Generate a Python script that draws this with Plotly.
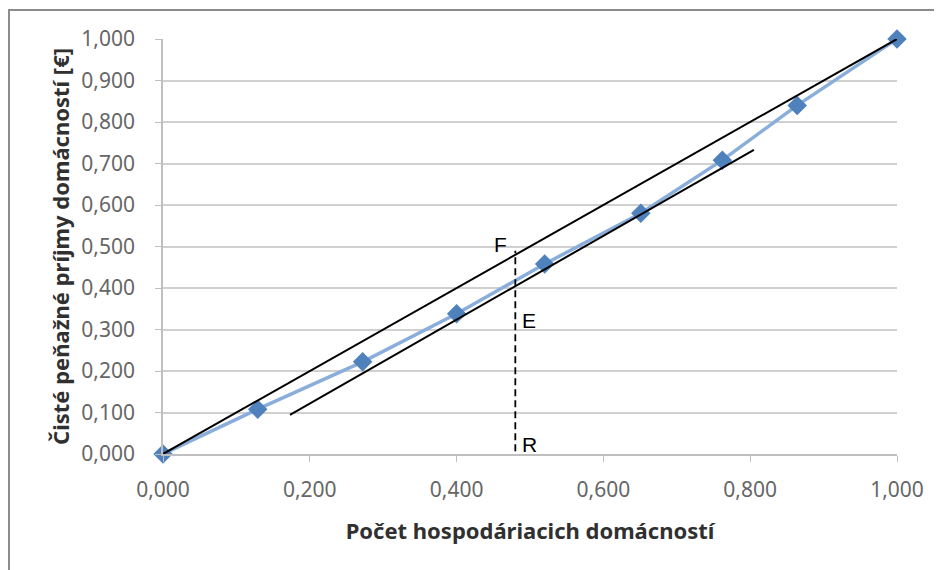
import plotly.graph_objects as go

# Lorenz curve data
x_share = [0.0, 0.129, 0.272, 0.400, 0.520, 0.651, 0.762, 0.864, 1.0]
y_share = [0.0, 0.108, 0.222, 0.338, 0.458, 0.580, 0.708, 0.840, 1.0]

# equality line
eq_x = [0.0, 1.0]
eq_y = [0.0, 1.0]
# tangent line
tan_x = [0.173, 0.805]
tan_y = [0.094, 0.733]
# dashed vertical R-E-F
dash_x = [0.48, 0.48]
dash_y = [-0.02, 0.49]

labels = ["F", "E", "R"]
label_x = [0.472, 0.487, 0.487]
label_y = [0.505, 0.322, 0.022]
label_anchor = ["right", "left", "left"]

tick_vals = [i / 10 for i in range(11)]
y_tick_text = [("%.3f" % v).replace(".", ",") for v in tick_vals]
x_tick_vals = [0.0, 0.2, 0.4, 0.6, 0.8, 1.0]
x_tick_text = [("%.3f" % v).replace(".", ",") for v in x_tick_vals]

fig = go.Figure()
fig.add_trace(go.Scatter(
    x=x_share, y=y_share, mode="lines+markers",
    line=dict(color="#8aaedb", width=3.5),
    marker=dict(symbol="diamond", size=15, color="#4f81bd"),
    showlegend=False, hoverinfo="skip", cliponaxis=False))
fig.add_trace(go.Scatter(x=eq_x, y=eq_y, mode="lines",
                         line=dict(color="black", width=2), showlegend=False))
fig.add_trace(go.Scatter(x=tan_x, y=tan_y, mode="lines",
                         line=dict(color="black", width=2), showlegend=False))
fig.add_trace(go.Scatter(x=dash_x, y=dash_y, mode="lines",
                         line=dict(color="black", width=1.8, dash="7px,4px"),
                         showlegend=False, cliponaxis=False))

for t, lx, ly, an in zip(labels, label_x, label_y, label_anchor):
    fig.add_annotation(x=lx, y=ly, text=t, showarrow=False, xanchor=an,
                       yanchor="middle",
                       font=dict(family="Liberation Sans, Arial", size=21, color="black"))

fig.update_layout(
    width=934, height=562,
    margin=dict(l=155, r=45, t=31, b=116),
    paper_bgcolor="white", plot_bgcolor="white",
    font=dict(family="Noto Sans, Open Sans, sans-serif", color="#666666", size=21),
    shapes=[dict(type="rect", xref="paper", yref="paper",
                 x0=-0.2098, x1=1.2, y0=-0.4, y1=1.0699,
                 line=dict(color="#8c8c8c", width=2))],
)
fig.update_xaxes(range=[0, 1], tickvals=x_tick_vals, ticktext=x_tick_text,
                 showgrid=False, zeroline=False, showline=True,
                 linecolor="#bfbfbf", linewidth=1.5, ticks="outside",
                 tickcolor="#bfbfbf", ticklen=6, ticklabelstandoff=10,
                 title=dict(text="<b>Počet hospodáriacich domácností</b>",
                            font=dict(size=22, color="#303030"), standoff=22),
                 tickfont=dict(size=21, color="#666666"))
fig.update_yaxes(range=[0, 1], tickvals=tick_vals, ticktext=y_tick_text,
                 showgrid=True, gridcolor="#d0d0d0", gridwidth=1.5,
                 zeroline=False, showline=True,
                 linecolor="#bfbfbf", linewidth=1.5, ticks="outside",
                 tickcolor="#bfbfbf", ticklen=6, ticklabelstandoff=16,
                 title=dict(text="<b>Čisté peňažné príjmy domácností [€]</b>",
                            font=dict(size=22, color="#303030"), standoff=6),
                 tickfont=dict(size=21, color="#666666"))

fig.write_html("out.html")
